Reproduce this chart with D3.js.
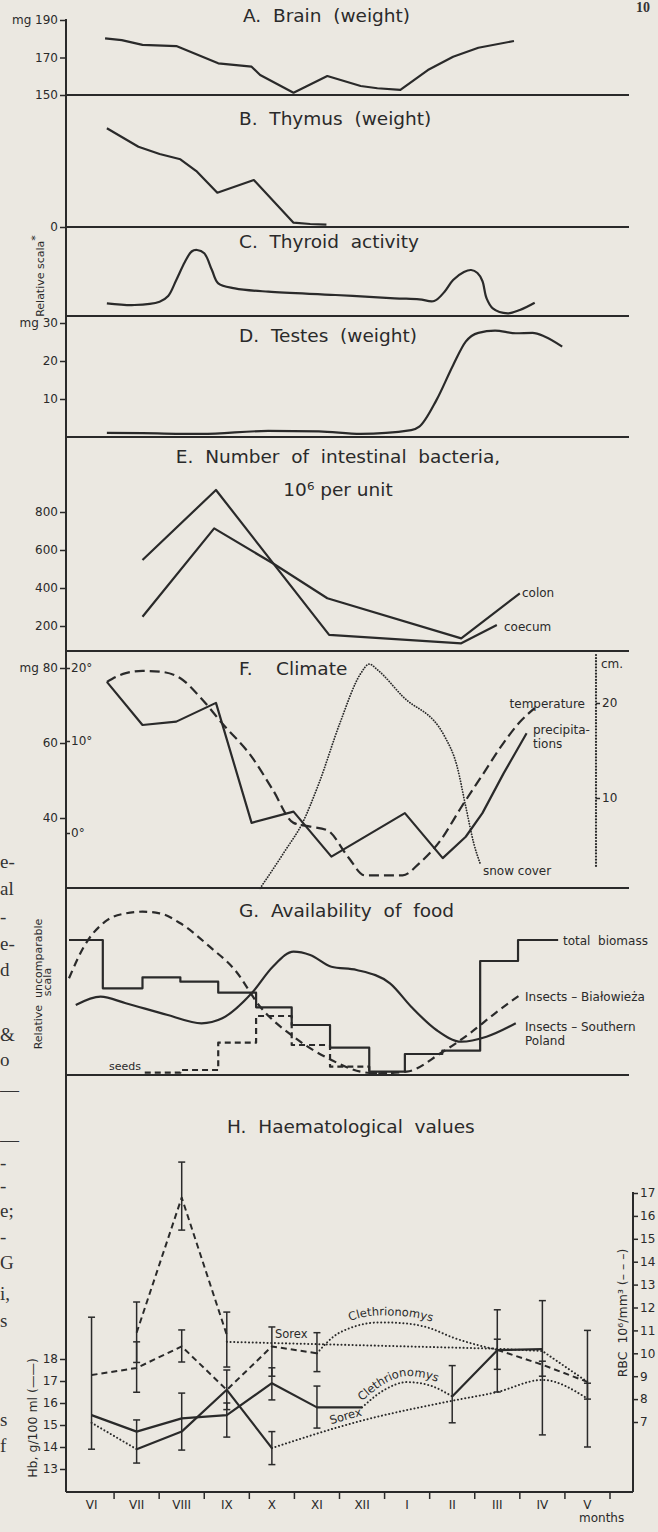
<!DOCTYPE html>
<html>
<head>
<meta charset="utf-8">
<title>Seasonal changes</title>
<script src="https://cdn.jsdelivr.net/npm/d3@7"></script>
<style>
  body { margin: 0; background: #ebe8e1; }
  svg { display: block; }
</style>
</head>
<body>
<div id="main"></div>
<script>
// month positions: 0 = start of June, month i spans [i, i+1]
const months = ["VI", "VII", "VIII", "IX", "X", "XI", "XII", "I", "II", "III", "IV", "V"];

// A. brain weight (mg)
const brainMonth = [0.80, 1.17, 1.63, 2.38, 3.31, 4.05, 4.24, 4.98, 5.73, 6.47, 6.84, 7.35, 7.96, 8.52, 9.08, 9.87];
const brainMg = [180.2, 179.3, 176.7, 176.1, 166.9, 165.1, 160.7, 151.2, 160.1, 154.8, 153.6, 152.7, 163.3, 170.4, 175.2, 178.8];
const brainTicks = [150, 170, 190];

// B. thymus (relative)
const thymusMonth = [0.84, 1.54, 2.01, 2.47, 2.84, 3.29, 4.10, 4.98, 5.35, 5.71];
const thymusRel = [98.7, 80.3, 73, 67.7, 55.3, 34.3, 47, 4.3, 3, 2.3];

// C. thyroid activity (relative)
const thyroidMonth = [0.84, 1.45, 2.01, 2.20, 2.38, 2.57, 2.72, 2.84, 3.00, 3.17, 3.31, 3.68, 4.42, 5.91, 7.22, 7.77, 8.10, 8.33, 8.52, 8.76, 8.92, 9.06, 9.17, 9.26, 9.40, 9.73, 10.0, 10.33];
const thyroidRel = [12.7, 11, 14.3, 20, 36, 54, 64.5, 66, 62.7, 46, 32.7, 27.7, 24.3, 21, 17.7, 16.7, 15, 24.3, 36, 44, 46, 43, 35, 18, 7.7, 2.7, 6, 13.3];

// D. testes weight (mg)
const testesMonth = [0.84, 1.63, 2.94, 4.42, 5.54, 6.47, 7.59, 7.77, 8.15, 8.52, 8.80, 9.08, 9.45, 9.91, 10.28, 10.56, 10.94];
const testesMg = [1.1, 1.0, 0.8, 1.6, 1.5, 0.8, 1.8, 2.7, 9.7, 18.9, 25.1, 27.4, 28, 27.3, 27.4, 26.4, 23.8];
const testesTicks = [10, 20, 30];

// E. intestinal bacteria (10^6 per unit)
const colonMonth = [1.63, 3.22, 4.52, 5.73, 8.70, 10.0];
const colonCount = [249, 714, 530, 346, 135, 372];
const coecumMonth = [1.63, 3.26, 5.77, 8.70, 9.49];
const coecumCount = [547, 916, 153, 109, 205];
const bactTicks = [200, 400, 600, 800];

// F. climate
const tempMonth = [0.84, 1.26, 1.63, 2.01, 2.47, 2.94, 3.40, 4.05, 4.52, 4.98, 5.35, 5.73, 6.19, 6.56, 7.40, 7.77, 8.24, 8.70, 9.17, 9.64, 10.0, 10.33];
const tempC = [18.1, 19.3, 19.6, 19.5, 18.6, 15.8, 12.4, 8.3, 4.7, 1.1, 0.7, 0.3, -2.6, -4.6, -4.6, -3.3, -0.8, 2.8, 6.3, 9.8, 12.6, 14.5];
const precipMonth = [0.84, 1.63, 2.38, 3.26, 4.05, 4.98, 5.82, 7.45, 8.29, 8.80, 9.17, 9.64, 10.15];
const precipMm = [76.3, 64.8, 65.7, 70.7, 38.7, 41.7, 29.7, 41.3, 29.3, 35.0, 41.3, 51.9, 62.6];
const snowMonth = [4.24, 4.80, 5.17, 5.54, 6.01, 6.47, 6.66, 6.84, 7.40, 8.33, 8.61, 8.80, 8.98, 9.12];
const snowCm = [0.5, 4.5, 7.3, 11.5, 17.9, 23.1, 24.1, 23.5, 20.7, 16.5, 13.3, 9.1, 5.2, 3.1];
const precipTicks = [40, 60, 80];
const tempTicks = [0, 10, 20];
const snowTicks = [10, 20];

// G. availability of food (relative)
const biomassEdge = [0, 0.75, 1.63, 2.47, 3.31, 4.15, 4.94, 5.79, 6.66, 7.45, 8.28, 9.12, 9.96, 10.85];
const biomassRel = [135, 86.7, 97.7, 93.3, 82.3, 67.7, 50, 27.3, 3.3, 21, 24.3, 114, 135];
const seedsEdge = [1.68, 2.47, 3.31, 4.15, 4.94, 5.79, 6.66, 7.2];
const seedsRel = [2.3, 5, 32.3, 59, 30, 8.3, 2];
const bialowiezaMonth = [0, 0.33, 0.80, 1.26, 1.63, 2.01, 2.47, 3.12, 3.68, 4.24, 4.98, 5.82, 6.47, 6.84, 7.49, 8.24, 8.89, 9.45, 10.0];
const bialowiezaRel = [96.7, 128.3, 153.3, 161.7, 163.3, 161.7, 151.7, 128.3, 105, 68.3, 38.3, 15, 3.3, 1.7, 3.3, 21.7, 41.7, 61.7, 80];
const southMonth = [0.15, 0.70, 1.26, 2.19, 2.94, 3.40, 4.05, 4.52, 4.98, 5.35, 5.82, 6.38, 7.12, 7.59, 8.15, 8.70, 9.26, 9.91];
const southRel = [70, 78.3, 71.7, 60, 51.7, 56.7, 81.7, 108.3, 123.3, 120, 108.3, 105, 91.7, 68.3, 45, 33.3, 38.3, 51.7];

// H. haematological values, one value per month (VI..V)
const clethHb = [15.45, 14.7, 15.3, 15.45, 16.9, 15.8, 15.8, null, 16.3, 18.4, 18.45, null];
const sorexHb = [null, 13.9, 14.7, 16.6, 13.95, null, null, null, null, null, null, null];
const clethRbc = [9.05, 9.36, 10.3, 8.4, 10.3, 10.0, null, null, null, 10.15, 9.5, 8.75];
const sorexRbc = [null, 10.9, 16.8, 10.8, null, null, null, null, null, null, null, null];
// dotted connections (month position, value)
const clethHbDotMonth = [6.5, 7.0, 7.5, 8.0, 8.5];
const clethHbDot = [15.8, 16.6, 16.95, 16.8, 16.3];
const sorexHbEarlyMonth = [0.5, 1.5];
const sorexHbEarly = [15.1, 13.9];
const sorexHbDotMonth = [4.5, 6.5, 8.5, 9.5, 10.5, 11.5];
const sorexHbDot = [13.95, 15.2, 16.1, 16.5, 17.05, 16.2];
const clethRbcDotMonth = [5.5, 6.0, 6.9, 7.5, 8.0, 8.5, 9.5];
const clethRbcDot = [10.0, 10.9, 11.35, 11.3, 11.1, 10.7, 10.15];
const sorexRbcDotMonth = [3.5, 9.5, 10.5, 11.5];
const sorexRbcDot = [10.5, 10.2, 10.1, 8.75];
// error bars
const barMonth = [0, 1, 1, 1, 2, 2, 2, 3, 3, 3, 4, 4, 4, 5, 5, 8, 9, 9, 10, 10, 11, 11];
const barUnit = ["hb", "rbc", "rbc", "hb", "rbc", "rbc", "hb", "rbc", "hb", "hb", "rbc", "hb", "hb", "rbc", "hb", "hb", "rbc", "hb", "rbc", "hb", "rbc", "hb"];
const barLow = [13.9, 9.6, 8.3, 13.27, 15.38, 9.62, 13.86, 9.4, 14.45, 15.7, 9.0, 16.14, 13.2, 9.2, 14.86, 15.1, 9.3, 16.5, 9.0, 14.55, 8.0, 14.0];
const barHigh = [19.9, 12.24, 10.5, 15.23, 18.35, 11.02, 16.45, 11.8, 16.0, 17.5, 11.15, 17.6, 14.7, 10.9, 16.77, 17.7, 11.9, 18.9, 12.3, 17.9, 11.0, 16.9];
const hbTicks = [13, 14, 15, 16, 17, 18];
const rbcTicks = [7, 8, 9, 10, 11, 12, 13, 14, 15, 16, 17];

// text of the facing page that shows at the left edge
const marginText = ["e-", "al", "-", "e-", "d", "&", "o", "—", "—", "-", "-", "e;", "-", "G", "i,", "s", "s", "f"];
const marginY = [862, 889, 917, 944, 970, 1035, 1060, 1090, 1140, 1163, 1186, 1211, 1237, 1263, 1294, 1321, 1420, 1446];

const ink = "#2a2a2a";
const font = "'DejaVu Sans', 'Noto Sans', sans-serif";
const axisX = 66;
const nb = "\u00a0";

const svg = d3.select("#main").append("svg").attr("width", 658).attr("height", 1532);
svg.append("rect").attr("width", 658).attr("height", 1532).attr("fill", "#ebe8e1");

const x = d3.scaleLinear().domain([0, 12]).range([69, 610]);
const monthBand = d3.scaleBand().domain(months).range([69, 610]);

const brainY = d3.scaleLinear().domain([150, 190]).range([95, 20]);
const thymusY = d3.scaleLinear().domain([0, 100]).range([227, 127]);
const thyroidY = d3.scaleLinear().domain([0, 100]).range([316, 216]);
const testesY = d3.scaleLinear().domain([0, 30]).range([437, 323]);
const bactY = d3.scaleLinear().domain([0, 800]).range([664, 512]);
const precipY = d3.scaleLinear().domain([40, 80]).range([818, 668]);
const tempY = d3.scaleLinear().domain([0, 10, 20]).range([833, 741, 668]);
const snowY = d3.scaleLinear().domain([0, 20]).range([893, 703]);
const foodY = d3.scaleLinear().domain([0, 200]).range([1075, 875]);
const hbY = d3.scaleLinear().domain([13, 18]).range([1469, 1359]);
const rbcY = d3.scaleLinear().domain([7, 17]).range([1422, 1193]);

const DOT = "0.1,3.6";

function drawLine(ms, vals, y, opt = {}) {
  const pts = ms.map((m, i) => [m, vals[i]]);
  const line = d3.line()
    .defined(p => p[1] != null)
    .x(p => x(p[0]))
    .y(p => y(p[1]))
    .curve(opt.curve || d3.curveLinear);
  return svg.append("path")
    .attr("d", line(pts))
    .attr("fill", "none")
    .attr("stroke", ink)
    .attr("stroke-width", opt.width || 2.2)
    .attr("stroke-dasharray", opt.dash || null)
    .attr("stroke-linecap", opt.round ? "round" : "butt")
    .attr("stroke-linejoin", "round");
}

function steps(edges, vals, y, dash) {
  const vs = vals.concat([vals[vals.length - 1]]);
  drawLine(edges, vs, y, { curve: d3.curveStepAfter, dash: dash });
}

function label(str, tx, ty, size, anchor) {
  return svg.append("text")
    .attr("x", tx).attr("y", ty)
    .attr("text-anchor", anchor || "start")
    .attr("font-family", font)
    .attr("font-size", size)
    .attr("fill", ink)
    .text(str);
}

function vlabel(str, tx, ty, size) {
  return svg.append("text")
    .attr("transform", `translate(${tx},${ty}) rotate(-90)`)
    .attr("text-anchor", "middle")
    .attr("font-family", font)
    .attr("font-size", size)
    .attr("fill", ink)
    .text(str);
}

function finishAxis(g) {
  g.select(".domain").remove();
  g.attr("font-family", font).attr("font-size", 12);
  g.selectAll(".tick line").attr("stroke", ink).attr("stroke-width", 1.5);
  g.selectAll(".tick text").attr("fill", ink);
  return g;
}

function leftAxis(scale, values, fmt) {
  return finishAxis(svg.append("g")
    .attr("transform", `translate(${axisX},0)`)
    .call(d3.axisLeft(scale).tickValues(values).tickFormat(fmt || (d => d)).tickSize(6).tickPadding(2)));
}

function pathLabel(id, ms, vals, y, lift, offset, str) {
  const line = d3.line().x((m) => x(m)).y((m, i) => y(vals[i]) - lift).curve(d3.curveMonotoneX);
  svg.append("path").attr("id", id).attr("d", line(ms)).attr("fill", "none");
  svg.append("text")
    .attr("font-family", font).attr("font-size", 11.5).attr("fill", ink)
    .append("textPath").attr("href", "#" + id).attr("startOffset", offset).text(str);
}

// facing page fragments and page number
svg.append("g").selectAll("text").data(marginText).join("text")
  .attr("x", 0).attr("y", (d, i) => marginY[i] + 6)
  .attr("font-family", "'Liberation Serif', serif").attr("font-size", 19).attr("fill", "#333")
  .text(d => d);
svg.append("text").attr("x", 636).attr("y", 12).attr("font-family", "'Liberation Serif', serif")
  .attr("font-weight", "bold").attr("font-size", 14).attr("fill", "#333").text("10");

// frame: main vertical axis and panel separators
svg.append("line").attr("x1", axisX).attr("x2", axisX).attr("y1", 19).attr("y2", 1492)
  .attr("stroke", ink).attr("stroke-width", 2);
const separators = [brainY(150), thymusY(0), thyroidY(0), testesY(0), 651, 888, foodY(0)];
svg.append("g").selectAll("line").data(separators).join("line")
  .attr("x1", axisX).attr("x2", 629).attr("y1", d => d).attr("y2", d => d)
  .attr("stroke", ink).attr("stroke-width", 1.8);

// titles
label(`A.${nb} Brain${nb} (weight)`, 243, 22, 18.5);
label(`B.${nb} Thymus${nb} (weight)`, 239, 125, 18.5);
label(`C.${nb} Thyroid${nb} activity`, 239, 248, 18.5);
label(`D.${nb} Testes${nb} (weight)`, 239, 342, 18.5);
label(`E.${nb} Number${nb} of${nb} intestinal${nb} bacteria,`, 338, 463, 18.5, "middle");
label("10⁶ per unit", 338, 496, 18.5, "middle");
label(`F.${nb}${nb}${nb} Climate`, 239, 675, 18.5);
label(`G.${nb} Availability${nb} of${nb} food`, 239, 917, 18.5);
label(`H.${nb} Haematological${nb} values`, 227, 1133, 18.5);

// A
leftAxis(brainY, brainTicks, d => d === 190 ? "mg 190" : d);
drawLine(brainMonth, brainMg, brainY);

// B and C
leftAxis(thymusY, [0]);
drawLine(thymusMonth, thymusRel, thymusY);
drawLine(thyroidMonth, thyroidRel, thyroidY, { curve: d3.curveCatmullRom.alpha(0.5) });
const relB = svg.append("text").attr("transform", "translate(44,276) rotate(-90)")
  .attr("text-anchor", "middle").attr("font-family", font).attr("font-size", 11).attr("fill", ink);
relB.append("tspan").text("Relative scala");
relB.append("tspan").attr("dy", -5).text("*");

// D
leftAxis(testesY, testesTicks, d => d === 30 ? "mg 30" : d);
drawLine(testesMonth, testesMg, testesY, { curve: d3.curveMonotoneX });

// E
leftAxis(bactY, bactTicks);
drawLine(colonMonth, colonCount, bactY);
drawLine(coecumMonth, coecumCount, bactY);
label("colon", 522, 597, 12);
label("coecum", 504, 631, 12);

// F
leftAxis(precipY, precipTicks, d => d === 80 ? "mg 80" : d);
finishAxis(svg.append("g").attr("transform", `translate(${axisX},0)`)
  .call(d3.axisRight(tempY).tickValues(tempTicks).tickFormat(d => d + "°").tickSize(4).tickPadding(1)));
svg.append("line").attr("x1", 596).attr("x2", 596).attr("y1", 655).attr("y2", 866)
  .attr("stroke", ink).attr("stroke-width", 2.2).attr("stroke-dasharray", "0.1,3").attr("stroke-linecap", "round");
finishAxis(svg.append("g").attr("transform", "translate(596,0)")
  .call(d3.axisRight(snowY).tickValues(snowTicks).tickSize(4).tickPadding(2)));
label("cm.", 601, 668, 12);
drawLine(tempMonth, tempC, tempY, { curve: d3.curveMonotoneX, dash: "10,5" });
drawLine(precipMonth, precipMm, precipY);
drawLine(snowMonth, snowCm, snowY, { curve: d3.curveMonotoneX, dash: "0.1,2.6", width: 1.8, round: true });
label("temperature", 585, 708, 12, "end");
label("precipita-", 533, 734, 12);
label("tions", 533, 748, 12);
label("snow cover", 483, 875, 12);

// G
steps(biomassEdge, biomassRel, foodY);
steps(seedsEdge, seedsRel, foodY, "6,4");
drawLine(bialowiezaMonth, bialowiezaRel, foodY, { curve: d3.curveMonotoneX, dash: "8,5" });
drawLine(southMonth, southRel, foodY, { curve: d3.curveMonotoneX });
label(`total${nb} biomass`, 563, 945, 12);
label("Insects – Białowieża", 525, 1001, 12);
label("Insects – Southern", 525, 1031, 12);
label("Poland", 525, 1045, 12);
label("seeds", 109, 1070, 11);
vlabel(`Relative${nb} uncomparable`, 42, 984, 11);
vlabel("scala", 51, 982, 11);

// H axes
leftAxis(hbY, hbTicks);
svg.append("line").attr("x1", 633).attr("x2", 633).attr("y1", 1192).attr("y2", 1492)
  .attr("stroke", ink).attr("stroke-width", 2);
finishAxis(svg.append("g").attr("transform", "translate(633,0)")
  .call(d3.axisRight(rbcY).tickValues(rbcTicks).tickSize(5).tickPadding(2)));
svg.append("line").attr("x1", axisX).attr("x2", 633).attr("y1", 1492).attr("y2", 1492)
  .attr("stroke", ink).attr("stroke-width", 2);
finishAxis(svg.append("g").attr("transform", "translate(0,1492)")
  .call(d3.axisBottom(monthBand).tickSize(0).tickPadding(8)));
svg.append("g").selectAll("line").data(d3.range(1, 13)).join("line")
  .attr("x1", d => x(d)).attr("x2", d => x(d)).attr("y1", 1492).attr("y2", 1499)
  .attr("stroke", ink).attr("stroke-width", 1.5);
label("months", 579, 1522, 12);
vlabel("Hb, g/100 ml (——)", 37, 1418, 12.5);
vlabel(`RBC${nb} 10⁶/mm³ (– – –)`, 627, 1313, 12.5);

// H error bars
const scaleOf = u => u === "hb" ? hbY : rbcY;
const bars = svg.append("g").attr("stroke", ink).attr("stroke-width", 1.5);
barMonth.forEach((m, i) => {
  const bx = monthBand(months[m]) + monthBand.bandwidth() / 2;
  const s = scaleOf(barUnit[i]);
  const y1 = s(barLow[i]), y2 = s(barHigh[i]);
  bars.append("line").attr("x1", bx).attr("x2", bx).attr("y1", y1).attr("y2", y2);
  bars.append("line").attr("x1", bx - 3.5).attr("x2", bx + 3.5).attr("y1", y1).attr("y2", y1);
  bars.append("line").attr("x1", bx - 3.5).attr("x2", bx + 3.5).attr("y1", y2).attr("y2", y2);
});

// H series
const centers = months.map((d, i) => i + 0.5);
drawLine(centers, clethHb, hbY);
drawLine(centers, sorexHb, hbY);
drawLine(centers, clethRbc, rbcY, { dash: "6,4", width: 2 });
drawLine(centers, sorexRbc, rbcY, { dash: "6,4", width: 2 });
drawLine(clethHbDotMonth, clethHbDot, hbY, { curve: d3.curveMonotoneX, dash: DOT, width: 2, round: true });
drawLine(sorexHbEarlyMonth, sorexHbEarly, hbY, { dash: DOT, width: 2, round: true });
drawLine(sorexHbDotMonth, sorexHbDot, hbY, { curve: d3.curveMonotoneX, dash: DOT, width: 2, round: true });
drawLine(clethRbcDotMonth, clethRbcDot, rbcY, { curve: d3.curveMonotoneX, dash: DOT, width: 2, round: true });
drawLine(sorexRbcDotMonth, sorexRbcDot, rbcY, { dash: DOT, width: 2, round: true });

label("Sorex", 275, 1338, 11.5);
pathLabel("clethUp", clethRbcDotMonth, clethRbcDot, rbcY, 7, 42, "Clethrionomys");
pathLabel("clethLow", clethHbDotMonth, clethHbDot, hbY, 6, 0, "Clethrionomys");
pathLabel("sorexLow", sorexHbDotMonth, sorexHbDot, hbY, 5, 62, "Sorex");
</script>
</body>
</html>
